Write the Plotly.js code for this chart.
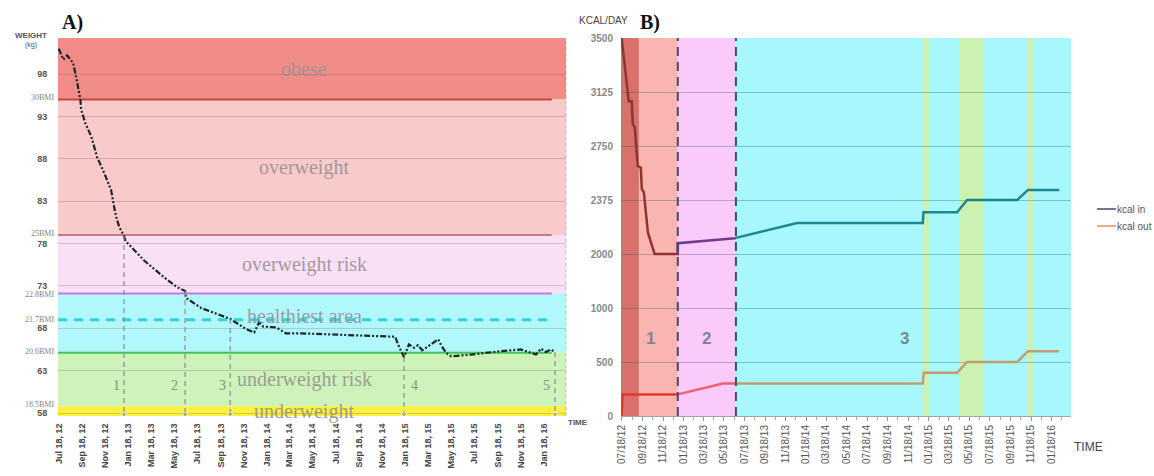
<!DOCTYPE html>
<html>
<head>
<meta charset="utf-8">
<script src="https://cdn.plot.ly/plotly-3.0.1.min.js"></script>
<style>html,body{margin:0;padding:0;background:#fff}#chart{width:1154px;height:476px}</style>
</head>
<body>
<div id="chart"></div>
<script>
// ---------- Panel A data ----------
const weightDates = ['2012-07-18','2012-07-30','2012-08-09','2012-08-25','2012-09-02','2012-09-13','2012-09-15','2012-09-26','2012-10-12','2012-10-27','2012-11-15','2012-12-03','2012-12-11','2012-12-16','2012-12-24','2013-01-06','2013-01-10','2013-02-28','2013-04-22','2013-05-24','2013-06-16','2013-06-18','2013-07-28','2013-10-13','2013-11-24','2013-12-15','2013-12-28','2014-01-08','2014-02-11','2014-03-09','2014-04-18','2014-09-18','2014-12-22','2014-12-29','2015-01-14','2015-01-27','2015-02-09','2015-02-20','2015-03-03','2015-03-26','2015-04-14','2015-04-22','2015-05-05','2015-05-18','2015-07-10','2015-09-27','2015-11-18','2015-12-28','2016-01-10','2016-01-23','2016-02-05','2016-02-16'];
const weightKg = [101.0,99.7,100.2,99.3,97.6,95.0,93.8,92.2,90.6,88.2,86.3,84.3,82.3,81.2,80.0,78.9,78.3,76.0,74.0,72.9,72.4,71.6,70.4,69.1,67.9,67.5,68.7,68.2,68.1,67.4,67.4,67.1,67.0,66.1,64.6,66.1,65.7,66.0,65.4,66.1,66.7,66.0,65.1,64.7,64.9,65.3,65.5,64.9,65.6,65.2,65.5,65.2];
const bmiLabels = ['30BMI','25BMI','22.8BMI','21.7BMI','20.6BMI','18.5BMI'];
const bmiKg = [95.0, 79.0, 72.1, 69.0, 65.1, 58.8];
const zoneNames = ['obese','overweight','overweight risk','healthiest area','underweight risk','underweight'];
const weightTicks = [58,63,68,73,78,83,88,93,98];
const phaseA = ['1','2','3','4','5'];
const phaseADates = ['2013-01-06','2013-06-16','2013-10-13','2015-01-14','2016-02-16'];

// ---------- Panel B data ----------
const kcalTicks = [0,500,1000,2000,2375,2750,3125,3500];
const kcalInDates = ['2012-07-18','2012-08-08','2012-08-17','2012-08-20','2012-08-26','2012-09-04','2012-09-13','2012-09-16','2012-09-22','2012-09-28','2012-10-04','2012-10-24','2013-01-01','2013-01-01','2013-06-20','2013-12-22','2014-12-31','2015-01-02','2015-04-12','2015-05-12','2015-10-08','2015-11-09','2016-02-10'];
const kcalInValues = [3500,3060,3060,2900,2880,2610,2600,2450,2430,2290,2150,2000,2000,2075,2110,2215,2215,2290,2290,2375,2375,2445,2445];
const kcalOutDates = ['2012-07-18','2012-07-21','2013-01-01','2013-05-15','2014-12-31','2015-01-03','2015-04-12','2015-05-12','2015-10-08','2015-11-09','2016-02-10'];
const kcalOutValues = [0,200,200,300,300,400,400,500,500,600,600];
const phaseBBounds = ['2012-07-16','2013-01-01','2013-06-23','2016-03-16'];
const dietStartEnd = ['2012-07-16','2012-09-07'];
const greenPeriods = [['2014-12-31','2015-01-18'],['2015-04-19','2015-07-01'],['2015-11-06','2015-11-25']];
const phaseB = ['1','2','3'];
const phaseBLabelDates = ['2012-10-12','2013-03-28','2014-11-08'];

// ---------- helpers ----------
function kcalPos(v){
  for(let i=0;i<kcalTicks.length-1;i++){
    if(v<=kcalTicks[i+1]) return i+(v-kcalTicks[i])/(kcalTicks[i+1]-kcalTicks[i]);
  }
  return kcalTicks.length-1;
}
function interpAt(dates, vals, d){
  const t=Date.parse(d);
  for(let i=0;i<dates.length-1;i++){
    const t0=Date.parse(dates[i]), t1=Date.parse(dates[i+1]);
    if(t>=t0&&t<=t1){ if(t1===t0) return vals[i]; return vals[i]+(vals[i+1]-vals[i])*(t-t0)/(t1-t0);}
  }
  return vals[vals.length-1];
}
function segment(dates, vals, a, b){
  const ta=Date.parse(a), tb=Date.parse(b); const xs=[], ys=[];
  for(let i=0;i<dates.length-1;i++){
    const t0=Date.parse(dates[i]), t1=Date.parse(dates[i+1]);
    if(t1<ta||t0>tb) continue;
    const c0=Math.max(t0,ta), c1=Math.min(t1,tb);
    const f=(c)=> vals[i]+(vals[i+1]-vals[i])*(c-t0)/(t1-t0);
    const v0 = t1===t0 ? vals[i] : f(c0);
    const v1 = t1===t0 ? vals[i+1] : f(c1);
    if(!(xs.length && xs[xs.length-1]===c0 && ys[ys.length-1]===v0)){ xs.push(c0); ys.push(v0); }
    xs.push(c1); ys.push(v1);
  }
  return {x:xs, y:ys};
}

const W=1154, H=476;
const px=(v)=>v/W, py=(v)=>1-v/H;
const yRangeA=[57.65,102.25];
const xRange=['2012-07-16','2016-03-16'];

const traces=[];
const shapes=[];
const annotations=[];

// ---------- Panel A ----------
const zoneBounds=[yRangeA[1]].concat(bmiKg.filter((v,i)=>i!==3)).concat([yRangeA[0]]);
const zoneColors=['#f08d88','#f9caca','#fae0f6','#b0f8fb','#cdf2ba','#faf03e'];
for(let i=0;i<zoneNames.length;i++){
  shapes.push({type:'rect',xref:'x domain',yref:'y',x0:0,x1:1,y0:zoneBounds[i+1],y1:zoneBounds[i],fillcolor:zoneColors[i],line:{width:0},layer:'below'});
  annotations.push({xref:'x domain',yref:'y',x:0.485,y:(zoneBounds[i]+zoneBounds[i+1])/2,text:zoneNames[i],showarrow:false,
    yshift: zoneNames[i]==='healthiest area'?7:0,
    font:{family:'Liberation Serif, DejaVu Serif, serif',size:20,color:'rgba(150,145,145,0.9)'}});
}
const bmiColors=['#c8463c','#c87a82','#c27ae0','#2ed3de','#3ec65a','rgba(0,0,0,0)'];
const bmiShift=[2,2,-1,0,1,2];
bmiKg.forEach((kg,i)=>{
  if(i<5) shapes.push({type:'line',xref:'x domain',yref:'y',x0:0,x1:0.972,y0:kg,y1:kg,layer:'below',
    line:{color:bmiColors[i],width:i===3?3:2,dash:i===3?'9px,7px':'solid'}});
  annotations.push({xref:'paper',yref:'y',x:px(56),xanchor:'right',y:kg,yshift:bmiShift[i],text:bmiLabels[i],showarrow:false,
    font:{family:'Liberation Serif, DejaVu Serif, serif',size:8,color:'#8a8080'}});
});
shapes.push({type:'line',xref:'x domain',yref:'y domain',x0:1,x1:1,y0:0,y1:1,line:{color:'rgba(120,120,120,0.45)',width:1,dash:'dot'},layer:'below'});

traces.push({x:weightDates,y:weightKg,xaxis:'x',yaxis:'y',mode:'lines',hoverinfo:'skip',showlegend:false,
  line:{color:'#1c2626',width:2.2,dash:'6px,2px,2px,2px,2px,2px'}});

const phaseShift=[-8,-11,-8,10,-9];
phaseADates.forEach((d,i)=>{
  const start=interpAt(weightDates,weightKg,d);
  traces.push({x:[d,d],y:[start,57.85],xaxis:'x',yaxis:'y',mode:'lines+markers',hoverinfo:'skip',showlegend:false,
    line:{color:'#8c8c8c',width:1.2,dash:'5px,4px'},
    marker:{symbol:['circle','triangle-down'],size:[0,6],color:'#8c8c8c'}});
  annotations.push({xref:'x',yref:'y',x:d,y:61.2,xshift:phaseShift[i],text:phaseA[i],showarrow:false,
    font:{family:'Liberation Serif, DejaVu Serif, serif',size:14,color:'#8f8a8a'}});
});

// ---------- Panel B ----------
shapes.push({type:'rect',xref:'x2',yref:'y2 domain',x0:phaseBBounds[0],x1:phaseBBounds[1],y0:0,y1:1,fillcolor:'#fab5b0',line:{width:0},layer:'below'});
shapes.push({type:'rect',xref:'x2',yref:'y2 domain',x0:dietStartEnd[0],x1:dietStartEnd[1],y0:0,y1:1,fillcolor:'#d8706b',line:{width:0},layer:'below'});
shapes.push({type:'rect',xref:'x2',yref:'y2 domain',x0:phaseBBounds[1],x1:phaseBBounds[2],y0:0,y1:1,fillcolor:'#facafa',line:{width:0},layer:'below'});
shapes.push({type:'rect',xref:'x2',yref:'y2 domain',x0:phaseBBounds[2],x1:phaseBBounds[3],y0:0,y1:1,fillcolor:'#a6f8fc',line:{width:0},layer:'below'});
greenPeriods.forEach(p=>shapes.push({type:'rect',xref:'x2',yref:'y2 domain',x0:p[0],x1:p[1],y0:0,y1:1,fillcolor:'#cdf1b0',line:{width:0},layer:'below'}));
[phaseBBounds[1],phaseBBounds[2]].forEach(d=>shapes.push({type:'line',xref:'x2',yref:'y2 domain',x0:d,x1:d,y0:0,y1:1,
  line:{color:'#4a4a66',width:2,dash:'9px,6px'},layer:'above'}));

const inColors=['#8e3434','#6e3c8a','#218590'];
const outColors=['#e2382e','#ee6070','#c49a72'];
for(let s=0;s<3;s++){
  const a=phaseBBounds[s], b=phaseBBounds[s+1];
  const so=segment(kcalOutDates,kcalOutValues,a,b);
  traces.push({x:so.x,y:so.y.map(kcalPos),xaxis:'x2',yaxis:'y2',mode:'lines',hoverinfo:'skip',showlegend:false,line:{color:outColors[s],width:2.5}});
  const si=segment(kcalInDates,kcalInValues,a,b);
  traces.push({x:si.x,y:si.y.map(kcalPos),xaxis:'x2',yaxis:'y2',mode:'lines',hoverinfo:'skip',showlegend:false,line:{color:inColors[s],width:2.5}});
}
phaseBLabelDates.forEach((d,i)=>annotations.push({xref:'x2',yref:'y2',x:d,y:kcalPos(720),text:phaseB[i],showarrow:false,
  font:{family:'Liberation Sans, Arial, sans-serif',size:17,weight:'bold',color:'#7d8690'}}));

// manual legend
const legendItems=[['kcal in','#6e7a8c',209],['kcal out','#eeaa82',226]];
legendItems.forEach(it=>{
  shapes.push({type:'line',xref:'paper',yref:'paper',x0:px(1097),x1:px(1116),y0:py(it[2]),y1:py(it[2]),line:{color:it[1],width:2},layer:'above'});
  annotations.push({xref:'paper',yref:'paper',x:px(1115),xanchor:'left',y:py(it[2]),yanchor:'middle',text:it[0],showarrow:false,
    font:{family:'Liberation Sans Narrow, Liberation Sans, Arial, sans-serif',size:10,color:'#555'}});
});

// titles / axis labels
annotations.push({xref:'paper',yref:'paper',x:px(60),y:py(22),xanchor:'left',yanchor:'middle',text:'A)',showarrow:false,font:{family:'Liberation Serif, serif',size:20,weight:'bold',color:'#111'}});
annotations.push({xref:'paper',yref:'paper',x:px(638),y:py(22),xanchor:'left',yanchor:'middle',text:'B)',showarrow:false,font:{family:'Liberation Serif, serif',size:20,weight:'bold',color:'#111'}});
annotations.push({xref:'paper',yref:'paper',x:px(31),y:py(36),xanchor:'center',yanchor:'middle',text:'WEIGHT',showarrow:false,font:{family:'Liberation Sans, Arial, sans-serif',size:8,weight:'bold',color:'#555'}});
annotations.push({xref:'paper',yref:'paper',x:px(31),y:py(45),xanchor:'center',yanchor:'middle',text:'(kg)',showarrow:false,font:{family:'Liberation Sans, Arial, sans-serif',size:7,color:'#555'}});
annotations.push({xref:'paper',yref:'paper',x:px(566),y:py(422),xanchor:'left',yanchor:'middle',text:'TIME',showarrow:false,font:{family:'Liberation Sans, Arial, sans-serif',size:8,weight:'bold',color:'#555'}});
annotations.push({xref:'paper',yref:'paper',x:px(577),y:py(21),xanchor:'left',yanchor:'middle',text:'KCAL/DAY',showarrow:false,font:{family:'Liberation Sans Narrow, Liberation Sans, Arial, sans-serif',size:10,color:'#444'}});
annotations.push({xref:'paper',yref:'paper',x:px(1072),y:py(447),xanchor:'left',yanchor:'middle',text:'TIME',showarrow:false,font:{family:'Liberation Sans Narrow, Liberation Sans, Arial, sans-serif',size:12,color:'#444'}});

const layout={
  width:W,height:H,margin:{l:0,r:0,t:0,b:0,autoexpand:false},
  paper_bgcolor:'#fff',plot_bgcolor:'#fff',showlegend:false,
  xaxis:{domain:[px(58),px(566)],range:xRange,type:'date',tick0:'2012-07-18',dtick:'M2',tickformat:'%b %d, %y',tickangle:-90,
    showgrid:false,zeroline:false,showline:false,ticks:'outside',ticklen:3,tickcolor:'rgba(0,0,0,0)',
    tickfont:{family:'Liberation Sans, Arial, sans-serif',size:9,weight:'bold',color:'#444'}},
  yaxis:{domain:[py(416),py(38)],range:yRangeA,tickvals:weightTicks,showgrid:true,gridcolor:'rgba(130,90,90,0.28)',gridwidth:1,
    zeroline:false,showline:false,ticks:'outside',ticklen:8,tickcolor:'rgba(0,0,0,0)',
    tickfont:{family:'Liberation Sans, Arial, sans-serif',size:9,weight:'bold',color:'#555'}},
  xaxis2:{domain:[px(621),px(1071)],range:xRange,type:'date',tick0:'2012-07-18',dtick:'M2',tickformat:'%m/%d/%y',tickangle:-90,
    showgrid:false,zeroline:false,showline:true,linecolor:'#9aa',linewidth:1,ticks:'outside',ticklen:4,tickcolor:'#999',
    minor:{dtick:'M1',tick0:'2012-07-18',ticks:'outside',ticklen:3,tickcolor:'#aaa',showgrid:false},
    anchor:'y2',tickfont:{family:'Liberation Sans, Arial, sans-serif',size:10,color:'#555'}},
  yaxis2:{domain:[py(416),py(38)],range:[0,kcalTicks.length-1],anchor:'x2',tickvals:kcalTicks.map((v,i)=>i),ticktext:kcalTicks.map(String),
    showgrid:true,gridcolor:'rgba(50,90,110,0.35)',gridwidth:1,zeroline:false,showline:false,ticks:'outside',ticklen:5,tickcolor:'rgba(0,0,0,0)',
    tickfont:{family:'Liberation Sans, Arial, sans-serif',size:10,weight:'bold',color:'#888'}},
  shapes:shapes,annotations:annotations
};
Plotly.newPlot('chart',traces,layout,{staticPlot:true,displayModeBar:false});
</script>
</body>
</html>
